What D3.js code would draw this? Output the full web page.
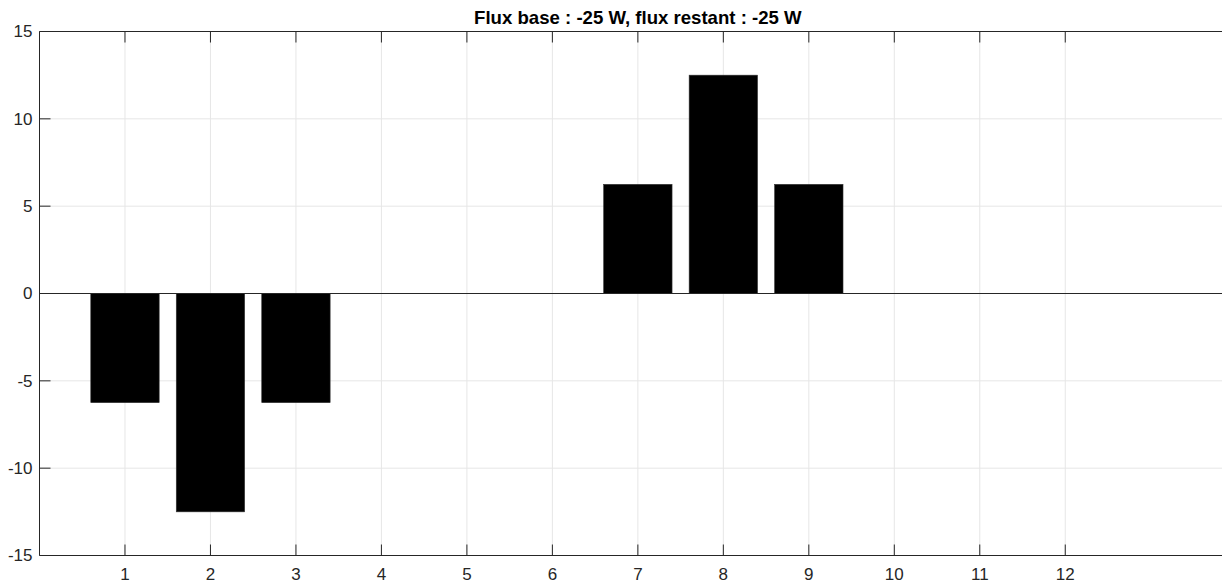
<!DOCTYPE html>
<html><head><meta charset="utf-8">
<script src="https://cdn.jsdelivr.net/npm/d3@7"></script>
<style>body{margin:0;background:#fff}svg{display:block}text{font-family:Arial,"Liberation Sans",Helvetica,sans-serif}</style>
</head><body>
<script>
const categories = [1,2,3,4,5,6,7,8,9,10,11,12];
const values = [-6.25,-12.5,-6.25,0,0,0,6.25,12.5,6.25,0,0,0];
const yTicks = [-15,-10,-5,0,5,10,15];
const xTicks = [1,2,3,4,5,6,7,8,9,10,11,12];
const title = "Flux base : -25 W, flux restant : -25 W";

(function(){
const W = 1222, H = 583;
const mLeft = 39.5, mTop = 31.5, mBottom = 555.5;
const step = 85.48;
const svg = d3.select("body").append("svg").attr("width", W).attr("height", H);
const x = d3.scaleLinear().domain([0, 14]).range([mLeft, mLeft + 14*step]);
const y = d3.scaleLinear().domain([-15, 15]).range([mBottom, mTop]);
const axisColor = "#262626";

// grid
svg.append("g").selectAll("line").data(xTicks).join("line")
  .attr("x1", d => x(d)).attr("x2", d => x(d)).attr("y1", mTop).attr("y2", mBottom)
  .attr("stroke", "#e6e6e6").attr("stroke-width", 1);
svg.append("g").selectAll("line").data(yTicks).join("line")
  .attr("x1", mLeft).attr("x2", x(14)).attr("y1", d => y(d)).attr("y2", d => y(d))
  .attr("stroke", "#e6e6e6").attr("stroke-width", 1);

// bars
const bw = 0.8;
svg.append("g").selectAll("rect").data(values).join("rect")
  .attr("x", (d,i) => x(categories[i] - bw/2))
  .attr("width", x(bw) - x(0))
  .attr("y", d => y(Math.max(0, d)))
  .attr("height", d => Math.abs(y(d) - y(0)))
  .attr("fill", "#000").attr("stroke", "#333").attr("stroke-width", 0.6);

// baseline
svg.append("line").attr("x1", mLeft).attr("x2", x(14)).attr("y1", y(0)).attr("y2", y(0))
  .attr("stroke", "#262626").attr("stroke-width", 1);

// axes box
const g = svg.append("g").attr("stroke", axisColor).attr("stroke-width", 1).attr("fill", "none");
g.append("line").attr("x1", mLeft).attr("x2", x(14)).attr("y1", mTop).attr("y2", mTop);
g.append("line").attr("x1", mLeft).attr("x2", x(14)).attr("y1", mBottom).attr("y2", mBottom);
g.append("line").attr("x1", mLeft).attr("x2", mLeft).attr("y1", mTop).attr("y2", mBottom);

// ticks
const tl = 11;
g.append("g").selectAll("line").data(yTicks).join("line")
  .attr("x1", mLeft).attr("x2", mLeft + tl).attr("y1", d => y(d)).attr("y2", d => y(d));
g.append("g").selectAll("line").data(xTicks).join("line")
  .attr("x1", d => x(d)).attr("x2", d => x(d)).attr("y1", mBottom).attr("y2", mBottom - tl);
g.append("g").selectAll("line").data(xTicks).join("line")
  .attr("x1", d => x(d)).attr("x2", d => x(d)).attr("y1", mTop).attr("y2", mTop + tl);

// labels
svg.append("g").selectAll("text").data(yTicks).join("text")
  .attr("x", mLeft - 7).attr("y", d => y(d)).attr("dy", "0.35em")
  .attr("text-anchor", "end").attr("font-size", 17).attr("fill", axisColor)
  .text(d => d);
svg.append("g").selectAll("text").data(xTicks).join("text")
  .attr("x", d => x(d)).attr("y", mBottom + 24)
  .attr("text-anchor", "middle").attr("font-size", 17).attr("fill", axisColor)
  .text(d => d);

svg.append("text").attr("x", (mLeft + x(14))/2).attr("y", 24)
  .attr("text-anchor", "middle").attr("font-size", 18.6).attr("font-weight", "bold")
  .attr("fill", "#000").text(title);
})();
</script>
</body></html>
